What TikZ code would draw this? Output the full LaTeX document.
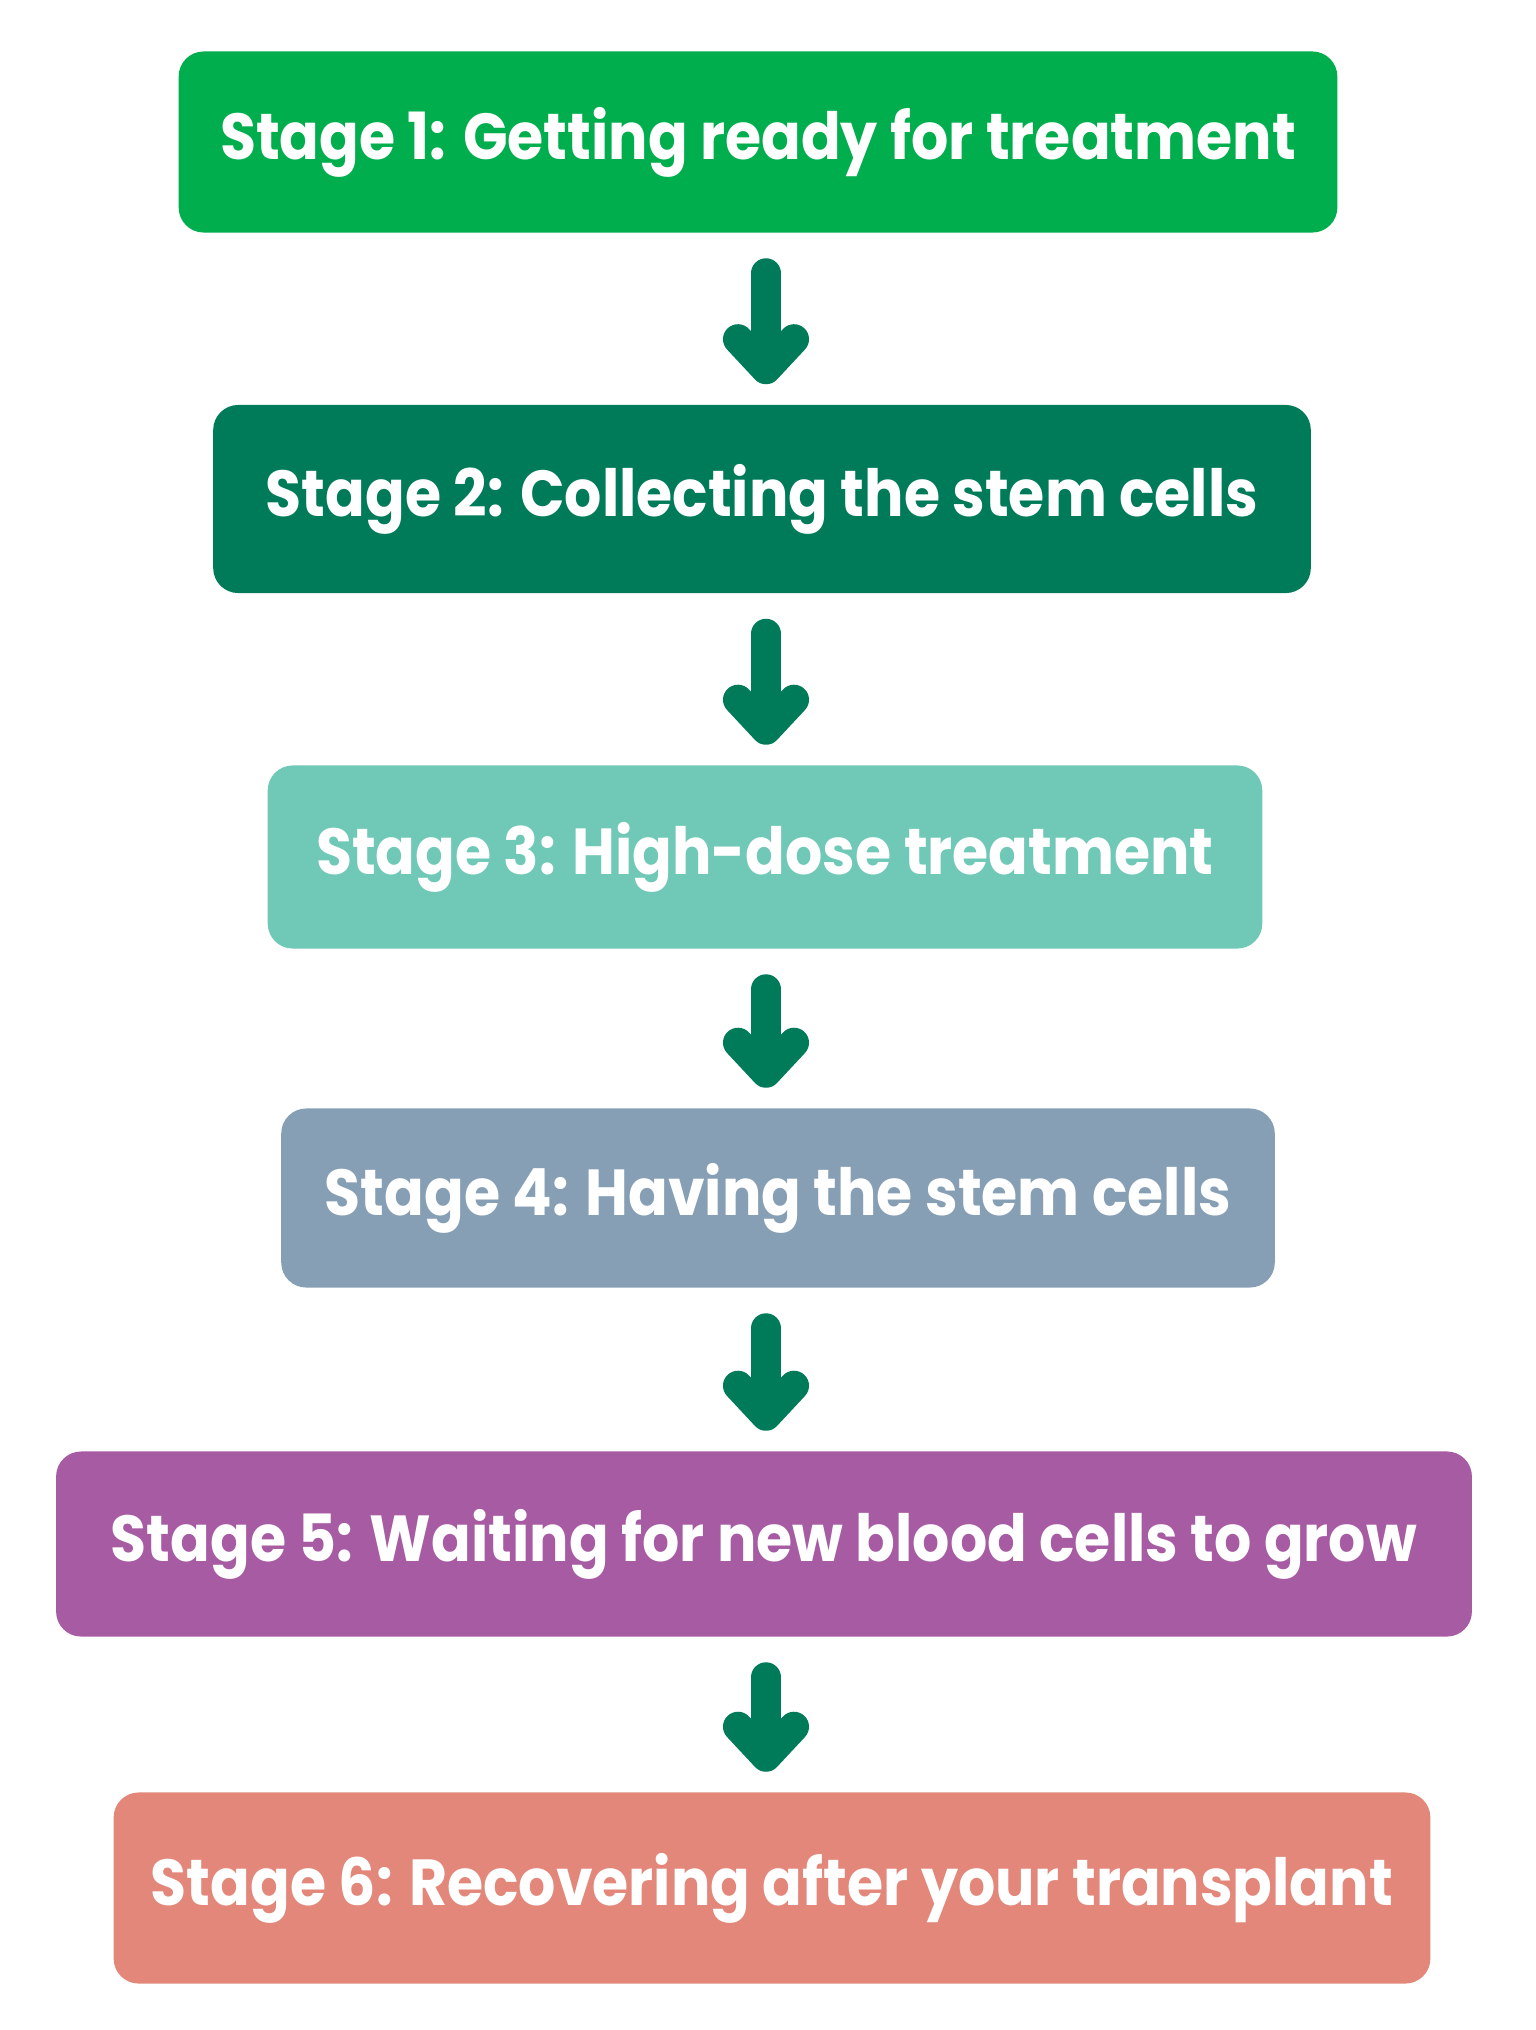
\documentclass[tikz,border=0pt]{standalone}
\usepackage{fontspec}
\setmainfont{Poppins}
\usepackage{graphicx}
\usepackage{xcolor}
\definecolor{stgone}{RGB}{0,174,77}
\definecolor{stgtwo}{RGB}{0,123,90}
\definecolor{stgthree}{RGB}{112,200,182}
\definecolor{stgfour}{RGB}{135,159,181}
\definecolor{stgfive}{RGB}{166,91,162}
\definecolor{stgsix}{RGB}{226,135,122}
\usetikzlibrary{arrows.meta,positioning}
\newcommand{\stagetext}[1]{\scalebox{0.9}[1]{#1}}
\tikzset{
    stagebox/.style={
    rectangle,rounded corners=0.25cm,inner sep=0pt,text=white,
    font=\fontsize{18.5}{22}\selectfont\bfseries
    },
  line/.style={draw=stgtwo, line width=0.3cm, line cap=round, -{Straight Barb[round,length=0.3cm,width=0.56cm]}, shorten <=0.4cm, shorten >=0.2cm}
}

\begin{document}
\begin{tikzpicture}[x=0.01cm,y=-0.01cm]
    \useasboundingbox (0,0) rectangle (1535,2030);

    \node[stagebox,fill=stgone,minimum width=11.58cm,minimum height=1.81cm] (one) at (758,142) {\stagetext{Stage 1: Getting ready for treatment}};
    \node[stagebox,fill=stgtwo,minimum width=10.97cm,minimum height=1.88cm] (two) at (762,499) {\stagetext{Stage 2: Collecting the stem cells}};
    \node[stagebox,fill=stgthree,minimum width=9.94cm,minimum height=1.83cm] (three) at (765,857) {\stagetext{Stage 3: High-dose treatment}};
    \node[stagebox,fill=stgfour,minimum width=9.93cm,minimum height=1.79cm] (four) at (778,1198) {\stagetext{Stage 4: Having the stem cells}};
    \node[stagebox,fill=stgfive,minimum width=14.15cm,minimum height=1.85cm] (five) at (764,1544) {\stagetext{Stage 5: Waiting for new blood cells to grow}};
    \node[stagebox,fill=stgsix,minimum width=13.16cm,minimum height=1.91cm] (six) at (772,1888) {\stagetext{Stage 6: Recovering after your transplant}};

    \coordinate (axis) at (766,0);

    \begin{scope} [every path/.style=line]
      \path (one.south -| axis) -- (two.north -| axis);
      \path (two.south -| axis) -- (three.north -| axis);
      \path (three.south -| axis) -- (four.north -| axis);
      \path (four.south -| axis) -- (five.north -| axis);
      \path (five.south -| axis) -- (six.north -| axis);
    \end{scope}

  \end{tikzpicture}
\end{document}
